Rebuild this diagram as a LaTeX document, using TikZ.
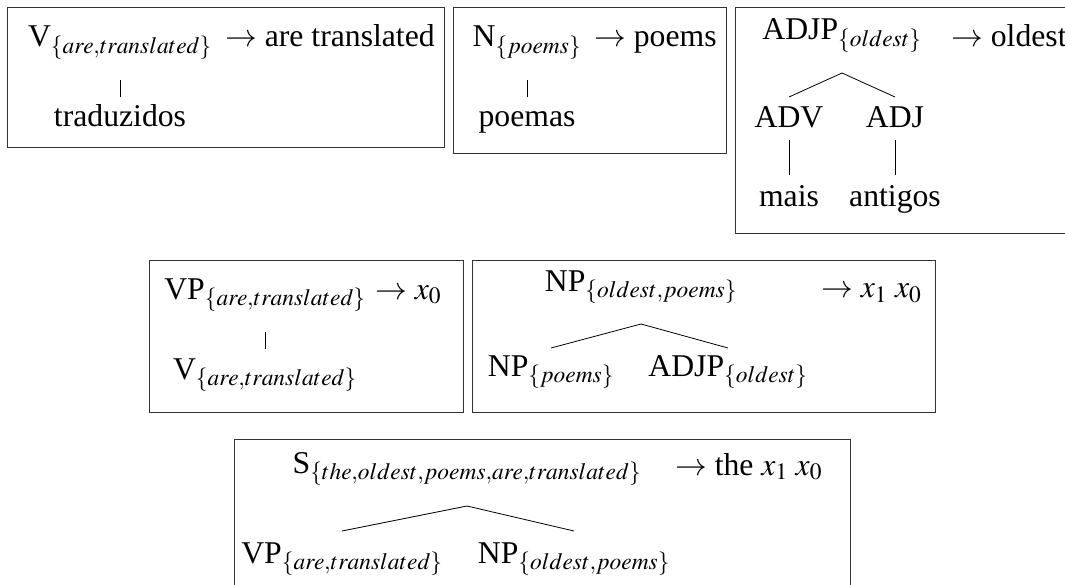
\documentclass[tikz,border=0pt]{standalone}
\usepackage{mathptmx}
\usepackage[no-math]{fontspec}
\setmainfont{Liberation Serif}
\begin{document}
\begin{tikzpicture}[x=1pt,y=-1pt,
  lbl/.style={anchor=base,inner sep=0pt,font=\fontsize{31.7}{38}\selectfont},
  rhs/.style={anchor=base west,inner sep=0pt,font=\fontsize{31.7}{38}\selectfont},
  frame/.style={draw=black!80,line width=1pt},
  branch/.style={draw=black,line width=0.8pt}]
\useasboundingbox (0,0) rectangle (1065,585);
\clip (0,0) rectangle (1065,585);

% rule 1: V -> are translated
\draw[frame] (7,8) rectangle (444,148);
\node[lbl] (r1) at (120,47) {V$_{\{are,translated\}}$};
\node[lbl] (l1) at (120,127) {traduzidos};
\node[rhs] (o1) at (225,47) {$\rightarrow$ are translated};
\draw[branch] ([yshift=-33pt]r1.base) -- ([yshift=30pt]l1.base);

% rule 2: N -> poems
\draw[frame] (453,8) rectangle (726,154);
\node[lbl] (r2) at (527,47) {N$_{\{poems\}}$};
\node[lbl] (l2) at (527,127) {poemas};
\node[rhs] (o2) at (594,47) {$\rightarrow$ poems};
\draw[branch] ([yshift=-33pt]r2.base) -- ([yshift=30pt]l2.base);

% rule 3: ADJP -> oldest
\draw[frame] (735,8) rectangle (1100,234);
\node[lbl] (r3) at (842,40) {ADJP$_{\{oldest\}}$};
\node[lbl] (a3) at (789,128) {ADV};
\node[lbl] (b3) at (895,128) {ADJ};
\node[lbl] (c3) at (789,207) {mais};
\node[lbl] (d3) at (895,207) {antigos};
\node[rhs] (o3) at (951,47) {$\rightarrow$ oldest};
\draw[branch] ([yshift=-33pt]r3.base) -- ([yshift=31pt]a3.base);
\draw[branch] ([yshift=-33pt]r3.base) -- ([yshift=31pt]b3.base);
\draw[branch] ([yshift=-12pt]a3.base) -- ([yshift=32pt]c3.base);
\draw[branch] ([yshift=-12pt]b3.base) -- ([yshift=32pt]d3.base);

% rule 4: VP -> x0
\draw[frame] (149,261) rectangle (463,412);
\node[lbl] (r4) at (265,299) {VP$_{\{are,translated\}}$};
\node[lbl] (l4) at (265,379) {V$_{\{are,translated\}}$};
\node[rhs] (o4) at (375,299) {$\rightarrow$ $x_0$};
\draw[branch] ([yshift=-33pt]r4.base) -- ([yshift=30pt]l4.base);

% rule 5: NP -> x1 x0
\draw[frame] (472,261) rectangle (935,412);
\node[lbl] (r5) at (641,291) {NP$_{\{oldest,poems\}}$};
\node[lbl] (a5) at (551,376) {NP$_{\{poems\}}$};
\node[lbl] (b5) at (728,376) {ADJP$_{\{oldest\}}$};
\node[rhs] (o5) at (821,298) {$\rightarrow$ $x_1$ $x_0$};
\draw[branch] ([yshift=-33pt]r5.base) -- ([yshift=28pt]a5.base);
\draw[branch] ([yshift=-33pt]r5.base) -- ([yshift=28pt]b5.base);

% rule 6: S -> the x1 x0
\draw[frame] (234,439) rectangle (850,600);
\node[lbl] (r6) at (467,473) {S$_{\{the,oldest,poems,are,translated\}}$};
\node[lbl] (a6) at (342,563) {VP$_{\{are,translated\}}$};
\node[lbl] (b6) at (574,563) {NP$_{\{oldest,poems\}}$};
\node[rhs] (o6) at (675,475) {$\rightarrow$ the $x_1$ $x_0$};
\draw[branch] ([yshift=-33pt]r6.base) -- ([yshift=32pt]a6.base);
\draw[branch] ([yshift=-33pt]r6.base) -- ([yshift=32pt]b6.base);
\end{tikzpicture}
\end{document}
